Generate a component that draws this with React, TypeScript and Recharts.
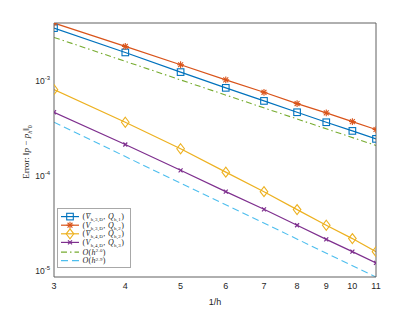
import { LineChart, Line, XAxis, YAxis } from "recharts";

// 1/h values and measured errors ||p - p_h||_0
const inverseH = [3, 4, 5, 6, 7, 8, 9, 10, 11];
const errV3Q1 = [3.57e-3, 1.98e-3, 1.23e-3, 8.4e-4, 6.12e-4, 4.65e-4, 3.65e-4, 2.96e-4, 2.44e-4];
const errV3Q2 = [4.04e-3, 2.29e-3, 1.47e-3, 1.02e-3, 7.54e-4, 5.74e-4, 4.58e-4, 3.71e-4, 3.06e-4];
const errV4Q2 = [8.04e-4, 3.65e-4, 1.92e-4, 1.09e-4, 6.79e-5, 4.4e-5, 3.01e-5, 2.18e-5, 1.59e-5];
const errV4Q3 = [4.65e-4, 2.13e-4, 1.14e-4, 6.8e-5, 4.43e-5, 3.01e-5, 2.14e-5, 1.59e-5, 1.21e-5];

// reference slopes (end points only, straight in log-log)
const refX = [3, 11];
const refOrder20 = [2.85e-3, 2.08e-4];
const refOrder29 = [3.65e-4, 8.6e-6];

const xTicks = [3, 4, 5, 6, 7, 8, 9, 10, 11];
const yTicks = [1e-5, 1e-4, 1e-3];
const yMinorTicks = [
  9e-6, 2e-5, 3e-5, 4e-5, 5e-5, 6e-5, 7e-5, 8e-5, 9e-5,
  2e-4, 3e-4, 4e-4, 5e-4, 6e-4, 7e-4, 8e-4, 9e-4, 2e-3, 3e-3, 4e-3,
];
const xMinorTicks = xTicks.slice(0, -1).flatMap((t) => [t + 0.2, t + 0.4, t + 0.6, t + 0.8]);

const X_DOMAIN: [number, number] = [3, 11];
const Y_DOMAIN: [number, number] = [8.6e-6, 4.04e-3];

const C = {
  blue: "#0072BD",
  orange: "#D95319",
  yellow: "#EDB120",
  purple: "#7E2F8E",
  green: "#77AC30",
  cyan: "#4DBEEE",
  axis: "#606060",
  text: "#262626",
};

const data = inverseH.map((x, i) => ({
  x,
  v3q1: errV3Q1[i],
  v3q2: errV3Q2[i],
  v4q2: errV4Q2[i],
  v4q3: errV4Q3[i],
}));
const ref20 = refX.map((x, i) => ({ x, r: refOrder20[i] }));
const ref29 = refX.map((x, i) => ({ x, r: refOrder29[i] }));

const SERIF = "'Liberation Serif', 'DejaVu Serif', serif";
const SANS = "'Liberation Sans', Arial, sans-serif";

type Mark = { cx: number; cy: number };

function Square({ cx, cy }: Mark) {
  return <rect x={cx - 3.3} y={cy - 3.3} width={6.6} height={6.6} fill="none" stroke={C.blue} strokeWidth={1.1} />;
}
function Star({ cx, cy }: Mark) {
  const r = 3.4;
  const d = r * 0.72;
  return (
    <g stroke={C.orange} strokeWidth={1.1}>
      <line x1={cx - r} y1={cy} x2={cx + r} y2={cy} />
      <line x1={cx} y1={cy - r} x2={cx} y2={cy + r} />
      <line x1={cx - d} y1={cy - d} x2={cx + d} y2={cy + d} />
      <line x1={cx - d} y1={cy + d} x2={cx + d} y2={cy - d} />
    </g>
  );
}
function Diamond({ cx, cy }: Mark) {
  return (
    <polygon
      points={`${cx},${cy - 5} ${cx + 3.8},${cy} ${cx},${cy + 5} ${cx - 3.8},${cy}`}
      fill="none"
      stroke={C.yellow}
      strokeWidth={1.1}
    />
  );
}
function Cross({ cx, cy }: Mark) {
  const r = 2;
  return (
    <g stroke={C.purple} strokeWidth={1.2}>
      <line x1={cx - r} y1={cy - r} x2={cx + r} y2={cy + r} />
      <line x1={cx - r} y1={cy + r} x2={cx + r} y2={cy - r} />
    </g>
  );
}

const dotOf = (M: (p: Mark) => JSX.Element) => (p: any) =>
  <M key={`m-${p.index}`} cx={p.cx} cy={p.cy} />;

function YTick({ x, y, payload }: any) {
  const e = Math.round(Math.log10(payload.value));
  return (
    <text x={x} y={y} textAnchor="end" fill={C.text} fontFamily={SANS} fontSize={8.5}>
      <tspan dy={3}>10</tspan>
      <tspan dy={-4} fontSize={6}>{e}</tspan>
    </text>
  );
}

function YLabel() {
  const cx = 29;
  const cy = 152;
  return (
    <text
      x={cx}
      y={cy}
      transform={`rotate(-90 ${cx} ${cy})`}
      textAnchor="middle"
      fontFamily={SERIF}
      fontSize={9}
      fill={C.text}
    >
      Error: ‖<tspan fontStyle="italic">p</tspan> − <tspan fontStyle="italic">p</tspan>
      <tspan dy={2.5} fontSize={6} fontStyle="italic">h</tspan>
      <tspan dy={-2.5}>‖</tspan>
      <tspan dy={2.5} fontSize={6}>0</tspan>
    </text>
  );
}

function PairLabel({ x, y, bar, vSub, qSub }: { x: number; y: number; bar: boolean; vSub: string; qSub: string }) {
  return (
    <text x={x} y={y} fontFamily={SERIF} fontSize={8} letterSpacing={0.3} fill={C.text}>
      <tspan>(</tspan>
      <tspan fontStyle="italic">{bar ? "V\u0304" : "V"}</tspan>
      <tspan dy={1.9} fontSize={5}>{vSub}</tspan>
      <tspan dy={-1.9}>, </tspan>
      <tspan fontStyle="italic">Q</tspan>
      <tspan dy={1.9} fontSize={5}>{qSub}</tspan>
      <tspan dy={-1.9}>)</tspan>
    </text>
  );
}

function OrderLabel({ x, y, p }: { x: number; y: number; p: string }) {
  return (
    <text x={x} y={y} fontFamily={SERIF} fontSize={8} letterSpacing={0.3} fill={C.text}>
      <tspan fontStyle="italic">O</tspan>(<tspan fontStyle="italic">h</tspan>
      <tspan dy={-2.4} fontSize={4.8}>{p}</tspan>
      <tspan dy={2.4}>)</tspan>
    </text>
  );
}

function LegendBox() {
  const rows = [8.6, 17.2, 25.8, 34.4, 44.2, 52.6];
  const x0 = 4;
  const x1 = 22;
  const mx = 13;
  const tx = 25.5;
  const sample = (i: number, color: string, dash?: string) => (
    <line x1={x0} x2={x1} y1={rows[i]} y2={rows[i]} stroke={color} strokeWidth={1.2} strokeDasharray={dash} />
  );
  return (
    <svg width={75} height={61} style={{ position: "absolute", left: 57, top: 208 }}>
      <rect x={0.5} y={0.5} width={73} height={59} fill="#fff" stroke="#a8a8a8" strokeWidth={1} />
      {sample(0, C.blue)}
      <Square cx={mx} cy={rows[0]} />
      <PairLabel x={tx} y={rows[0] + 2.5} bar vSub="h,3,D" qSub="h,1" />
      {sample(1, C.orange)}
      <Star cx={mx} cy={rows[1]} />
      <PairLabel x={tx} y={rows[1] + 2.5} bar={false} vSub="h,3,D" qSub="h,2" />
      {sample(2, C.yellow)}
      <Diamond cx={mx} cy={rows[2]} />
      <PairLabel x={tx} y={rows[2] + 2.5} bar vSub="h,4,D" qSub="h,2" />
      {sample(3, C.purple)}
      <Cross cx={mx} cy={rows[3]} />
      <PairLabel x={tx} y={rows[3] + 2.5} bar={false} vSub="h,4,D" qSub="h,3" />
      {sample(4, C.green, "6 3 1.5 3")}
      <OrderLabel x={tx} y={rows[4] + 2.5} p="2.0" />
      {sample(5, C.cyan, "7 4")}
      <OrderLabel x={tx} y={rows[5] + 2.5} p="2.9" />
    </svg>
  );
}

const minorProps = { type: "number" as const, scale: "log" as const, allowDataOverflow: true, mirror: true, tick: false, tickLine: { stroke: C.axis } };

export default function App() {
  return (
    <div style={{ position: "absolute", left: 0, top: 0, width: 415, height: 312, background: "#fff" }}>
      <LineChart width={415} height={312} data={data} margin={{ top: 23, right: 39, bottom: 5, left: 8 }}>
        {/* labelled axes */}
        <XAxis
          xAxisId="x"
          dataKey="x"
          type="number"
          scale="log"
          domain={X_DOMAIN}
          allowDataOverflow
          ticks={xTicks}
          height={30}
          tickLine={false}
          tickSize={3}
          tickMargin={3}
          axisLine={{ stroke: C.axis }}
          tick={{ fill: C.text, fontSize: 9, fontFamily: SANS }}
          label={{ value: "1/h", position: "insideBottom", offset: 2, fill: C.text, fontSize: 9, fontFamily: SANS }}
        />
        <YAxis
          yAxisId="y"
          type="number"
          scale="log"
          domain={Y_DOMAIN}
          allowDataOverflow
          ticks={yTicks}
          width={46}
          tickLine={false}
          tickSize={2}
          tickMargin={2}
          axisLine={{ stroke: C.axis }}
          tick={<YTick />}
          label={() => <YLabel />}
        />
        {/* inward ticks and box edges */}
        <XAxis xAxisId="xb" {...minorProps} domain={X_DOMAIN} ticks={xTicks} orientation="bottom" height={1} tickSize={3.5} axisLine={false} />
        <XAxis xAxisId="xbm" {...minorProps} domain={X_DOMAIN} ticks={xMinorTicks} orientation="bottom" height={1} tickSize={2} axisLine={false} />
        <XAxis xAxisId="xt" {...minorProps} domain={X_DOMAIN} ticks={xTicks} orientation="top" height={1} tickSize={3.5} axisLine={{ stroke: C.axis }} />
        <XAxis xAxisId="xtm" {...minorProps} domain={X_DOMAIN} ticks={xMinorTicks} orientation="top" height={1} tickSize={2} axisLine={false} />
        <YAxis yAxisId="yl" {...minorProps} domain={Y_DOMAIN} ticks={yTicks} orientation="left" width={1} tickSize={3.5} axisLine={false} />
        <YAxis yAxisId="ylm" {...minorProps} domain={Y_DOMAIN} ticks={yMinorTicks} orientation="left" width={1} tickSize={2} axisLine={false} />
        <YAxis yAxisId="yr" {...minorProps} domain={Y_DOMAIN} ticks={yTicks} orientation="right" width={1} tickSize={3.5} axisLine={{ stroke: C.axis }} />
        <YAxis yAxisId="yrm" {...minorProps} domain={Y_DOMAIN} ticks={yMinorTicks} orientation="right" width={1} tickSize={2} axisLine={false} />

        <Line xAxisId="x" yAxisId="y" data={ref20} dataKey="r" type="linear" stroke={C.green} strokeWidth={1.1} strokeDasharray="6 3 1.5 3" dot={false} isAnimationActive={false} />
        <Line xAxisId="x" yAxisId="y" data={ref29} dataKey="r" type="linear" stroke={C.cyan} strokeWidth={1.1} strokeDasharray="7 4" dot={false} isAnimationActive={false} />
        <Line xAxisId="x" yAxisId="y" dataKey="v3q1" type="linear" stroke={C.blue} strokeWidth={1.2} dot={dotOf(Square)} isAnimationActive={false} />
        <Line xAxisId="x" yAxisId="y" dataKey="v3q2" type="linear" stroke={C.orange} strokeWidth={1.2} dot={dotOf(Star)} isAnimationActive={false} />
        <Line xAxisId="x" yAxisId="y" dataKey="v4q2" type="linear" stroke={C.yellow} strokeWidth={1.2} dot={dotOf(Diamond)} isAnimationActive={false} />
        <Line xAxisId="x" yAxisId="y" dataKey="v4q3" type="linear" stroke={C.purple} strokeWidth={1.2} dot={dotOf(Cross)} isAnimationActive={false} />
      </LineChart>
      <LegendBox />
    </div>
  );
}
